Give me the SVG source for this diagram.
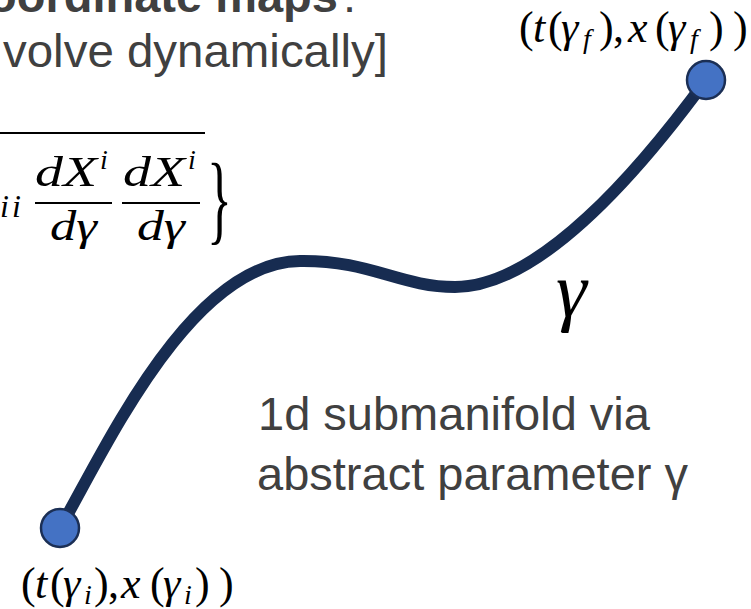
<svg xmlns="http://www.w3.org/2000/svg" width="751" height="609" viewBox="0 0 751 609">
  <style>
    .sans { font-family: "Liberation Sans", Arial, sans-serif; fill: #404040; }
    .math { font-family: "Liberation Serif", "DejaVu Serif", serif; fill: #000; }
    .it { font-style: italic; }
    .sub { font-style: italic; font-size: 28px; }
    .node { fill: #4472C4; stroke: #1B2F55; stroke-width: 2.5; }
    .curve { fill: none; stroke: #172C51; stroke-width: 12; stroke-linecap: round; }
    .rule { stroke: #000; stroke-width: 1.8; }
  </style>
  <rect width="751" height="609" fill="#fff"/>

  <g id="heading">
    <text class="sans" x="-12" y="12" font-size="47" font-weight="bold">oordinate maps</text>
    <text class="sans" x="343" y="12" font-size="47">:</text>
    <text class="sans" x="3" y="67" font-size="47" textLength="385" lengthAdjust="spacingAndGlyphs">volve dynamically]</text>
  </g>

  <g id="formula">
    <line class="rule" x1="0" y1="133" x2="205" y2="133"/>
    <text class="math it" x="0" y="217" font-size="32" letter-spacing="3">ii</text>
    <text class="math it" x="35" y="186" font-size="42" textLength="62" lengthAdjust="spacingAndGlyphs">dX</text>
    <text class="math it" x="100" y="169" font-size="28">i</text>
    <line class="rule" x1="35" y1="203" x2="112" y2="203"/>
    <text class="math it" x="50" y="240" font-size="42" textLength="47" lengthAdjust="spacingAndGlyphs">dγ</text>
    <text class="math it" x="123" y="186" font-size="42" textLength="62" lengthAdjust="spacingAndGlyphs">dX</text>
    <text class="math it" x="188" y="169" font-size="28">i</text>
    <line class="rule" x1="122" y1="203" x2="200" y2="203"/>
    <text class="math it" x="137" y="240" font-size="42" textLength="48" lengthAdjust="spacingAndGlyphs">dγ</text>
    <text class="math" transform="translate(207,232) scale(0.55,1.05)" font-size="94">}</text>
  </g>

  <g id="connectors">
    <path class="curve" d="M60,528 C105,450 190,262 300,261 C370,260 400,287 455,287 C540,287 640,170 706,80"/>
  </g>

  <g id="node-start">
    <circle class="node" cx="60" cy="528" r="19"/>
    <text class="math" y="598" font-size="44"><tspan x="21">(</tspan><tspan class="it" x="35">t</tspan><tspan x="50">(</tspan><tspan class="it" x="63">γ</tspan><tspan class="sub" x="84" y="604">i</tspan><tspan x="94" y="598">)</tspan><tspan x="108">,</tspan><tspan class="it" x="121">x</tspan><tspan x="150">(</tspan><tspan class="it" x="163">γ</tspan><tspan class="sub" x="184" y="604">i</tspan><tspan x="195" y="598">)</tspan><tspan x="219">)</tspan></text>
  </g>

  <g id="node-end">
    <circle class="node" cx="706" cy="80" r="19"/>
    <text class="math" y="42" font-size="44"><tspan x="519">(</tspan><tspan class="it" x="533">t</tspan><tspan x="548">(</tspan><tspan class="it" x="561">γ</tspan><tspan class="sub" x="583" y="48">f</tspan><tspan x="599" y="42">)</tspan><tspan x="613">,</tspan><tspan class="it" x="628">x</tspan><tspan x="655">(</tspan><tspan class="it" x="668">γ</tspan><tspan class="sub" x="690" y="48">f</tspan><tspan x="709" y="42">)</tspan><tspan x="733">)</tspan></text>
  </g>

  <g id="gamma-label">
    <text class="math it" x="556" y="316" font-size="78">γ</text>
  </g>

  <g id="description">
    <text class="sans" x="258" y="430" font-size="47">1d submanifold via</text>
    <text class="sans" x="257" y="490" font-size="47">abstract parameter γ</text>
  </g>
</svg>
